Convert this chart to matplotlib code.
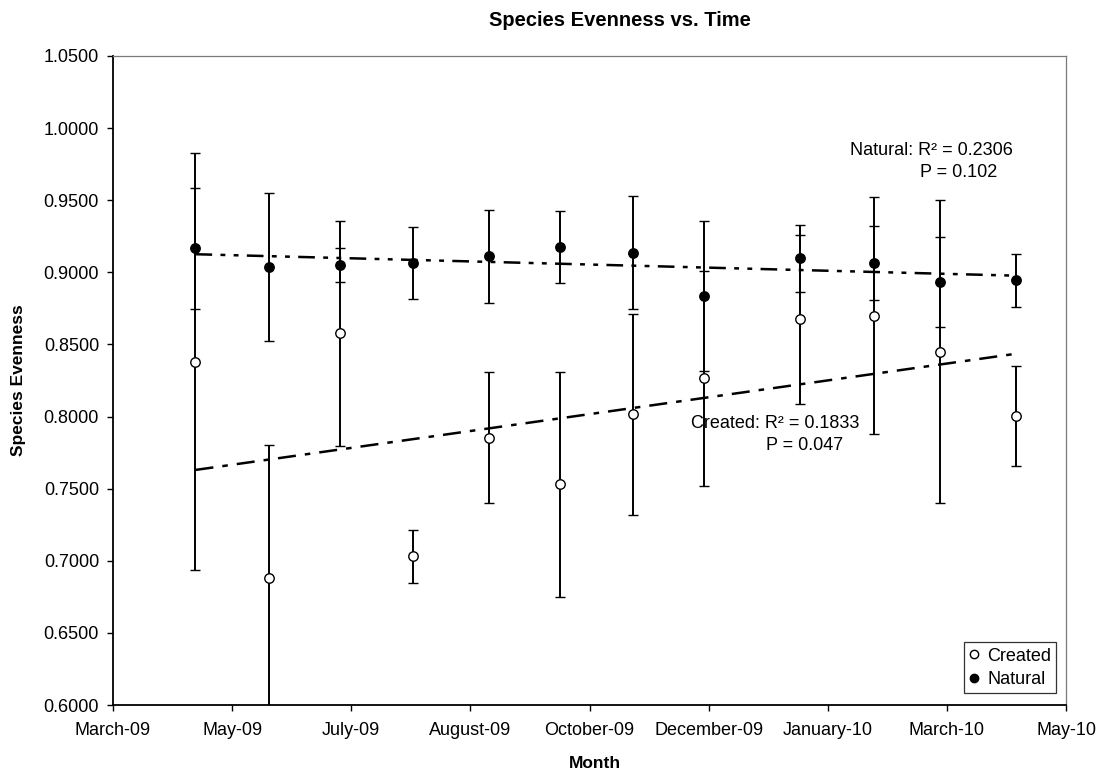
import numpy as np
import matplotlib
matplotlib.use("Agg")
import matplotlib.pyplot as plt
import matplotlib.dates as mdates
from matplotlib.ticker import FixedLocator, FormatStrFormatter
from matplotlib.lines import Line2D

plt.rcParams['font.family'] = ['Liberation Sans', 'DejaVu Sans']
plt.rcParams['lines.scale_dashes'] = False

# Sampling dates (one survey per month)
sample_dates = ["2009-04-27", "2009-05-29", "2009-06-29", "2009-07-31",
                "2009-09-02", "2009-10-03", "2009-11-04", "2009-12-05",
                "2010-01-16", "2010-02-17", "2010-03-18", "2010-04-20"]

# Mean species evenness and standard error per site type
natural_mean = [0.9166, 0.9037, 0.9050, 0.9065, 0.9110, 0.9177,
                0.9137, 0.8837, 0.9098, 0.9065, 0.8934, 0.8945]
natural_err = [0.0420, 0.0510, 0.0120, 0.0250, 0.0325, 0.0250,
               0.0390, 0.0520, 0.0233, 0.0255, 0.0310, 0.0185]
created_mean = [0.8380, 0.6882, 0.8576, 0.7030, 0.7852, 0.7530,
                0.8017, 0.8264, 0.8675, 0.8698, 0.8449, 0.8003]
created_err = [0.1445, 0.0924, 0.0780, 0.0185, 0.0454, 0.0780,
               0.0697, 0.0744, 0.0585, 0.0822, 0.1050, 0.0345]

# Date axis: major ticks every 52 days
tick_start = "2009-03-22"
tick_step_days = 52
n_ticks = 9

y_min, y_max, y_step = 0.60, 1.05, 0.05

natural_stats = "Natural: R\u00b2 = 0.2306"
natural_p = "P = 0.102"
created_stats = "Created: R\u00b2 = 0.1833"
created_p = "P = 0.047"

x = mdates.datestr2num(sample_dates)
ticks = mdates.datestr2num(tick_start) + tick_step_days * np.arange(n_ticks)

fig = plt.figure(figsize=(11.04, 7.76), dpi=100)
ax = fig.add_axes([113 / 1104, 1 - 705 / 776, 953 / 1104, 649 / 776])

# Linear trend lines fitted over the sampling period
def trend(y):
    coef = np.polyfit(x - x[0], y, 1)
    xs = np.array([x[0], x[-1]])
    return xs, np.polyval(coef, xs - x[0])

xs, ys = trend(natural_mean)
ax.plot(xs, ys, color='black', lw=1.8,
        linestyle=(0, (12, 6, 3.5, 6, 3.5, 6)), zorder=2)
xs, ys = trend(created_mean)
ax.plot(xs, ys, color='black', lw=1.8,
        linestyle=(0, (13, 6.5, 4, 6.5)), zorder=2)

common = dict(fmt='o', ms=6.8, mec='black', mew=1.0, ecolor='black',
              elinewidth=1.4, capsize=3.8, capthick=1.4, zorder=3)
ax.errorbar(x, natural_mean, yerr=natural_err, mfc='black', **common)
ax.errorbar(x, created_mean, yerr=created_err, mfc='white', **common)

ax.set_xlim(ticks[0], ticks[-1])
ax.set_ylim(y_min, y_max)
ax.xaxis.set_major_locator(FixedLocator(ticks))
ax.xaxis.set_major_formatter(mdates.DateFormatter('%B-%y'))
ax.yaxis.set_major_locator(FixedLocator(np.arange(y_min, y_max + 1e-9, y_step)))
ax.yaxis.set_major_formatter(FormatStrFormatter('%.4f'))
ax.tick_params(axis='both', direction='out', length=4, width=1.0,
               labelsize=13, colors='black')
ax.tick_params(axis='x', pad=8)
ax.tick_params(axis='y', pad=6)

for side in ('left', 'bottom'):
    ax.spines[side].set_linewidth(1.3)
    ax.spines[side].set_color('black')
for side in ('top', 'right'):
    ax.spines[side].set_linewidth(0.9)
    ax.spines[side].set_color('#7a7a7a')

ax.text(0.773, 0.855, natural_stats, transform=ax.transAxes, fontsize=13,
        ha='left', va='center')
ax.text(0.8468, 0.821, natural_p, transform=ax.transAxes, fontsize=13,
        ha='left', va='center')
ax.text(0.606, 0.4345, created_stats, transform=ax.transAxes, fontsize=13,
        ha='left', va='center')
ax.text(0.685, 0.4006, created_p, transform=ax.transAxes, fontsize=13,
        ha='left', va='center')

handles = [
    Line2D([], [], ls='none', marker='o', ms=6, mfc='white', mec='black', mew=1),
    Line2D([], [], ls='none', marker='o', ms=6, mfc='black', mec='black', mew=1),
]
leg = ax.legend(handles, ['Created', 'Natural'], loc='lower right',
                bbox_to_anchor=(0.99, 0.018), fontsize=13, frameon=True,
                fancybox=False, edgecolor='black', handlelength=0.6,
                handletextpad=0.4, borderpad=0.3, labelspacing=0.35,
                borderaxespad=0.0)
leg.get_frame().set_linewidth(0.9)

fig.text(620 / 1104, 1 - 20 / 776, "Species Evenness vs. Time",
         fontsize=14.5, fontweight='bold', ha='center', va='center')
fig.text(19 / 1104, 1 - 380 / 776, "Species Evenness", rotation=90,
         fontsize=12.5, fontweight='bold', ha='center', va='center')
fig.text(595 / 1104, 1 - 763 / 776, "Month",
         fontsize=12.5, fontweight='bold', ha='center', va='center')

fig.savefig("out.png", dpi=100)
